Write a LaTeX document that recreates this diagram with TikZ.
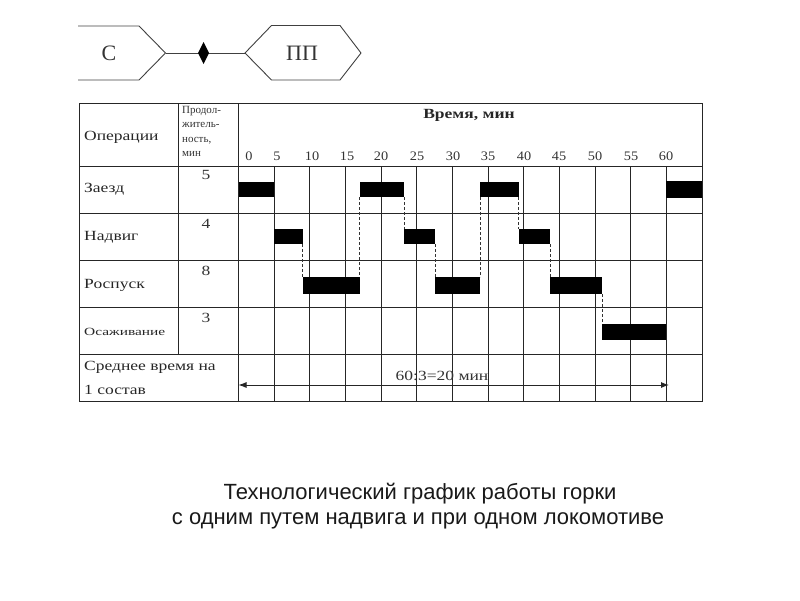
\documentclass[tikz,border=0pt]{standalone}
\usepackage{fontspec}
\setmainfont{Liberation Serif}
\newfontfamily\tabfont[FakeStretch=1.25]{Liberation Serif}
\newfontfamily\osfont[FakeStretch=1.4]{Liberation Serif}
\newfontfamily\numfont[FakeStretch=1.1]{Liberation Serif}
\newfontfamily\capfont{Liberation Sans}
\usetikzlibrary{arrows.meta}
\newcommand\ganttbar[5]{%
  \node[bar, minimum width={(#3-#2)*7.13pt}, minimum height=#5] (#1) at ({238.5+7.13*#2},#4) {};}
\begin{document}
\begin{tikzpicture}[x=1pt,y=-1pt,
  gridline/.style={draw=black!85, line width=0.9pt},
  shapeline/.style={draw=black!75, line width=0.9pt},
  bar/.style={fill=black, draw=none, inner sep=0pt, outer sep=0pt, anchor=north west},
  dashlink/.style={draw=black!80, line width=0.8pt, dash pattern=on 3pt off 2pt},
  lbl/.style={font=\tabfont\fontsize{14}{16}\selectfont, anchor=west, inner sep=0pt, text=black!85},
  num/.style={font=\numfont\fontsize{13}{15}\selectfont, inner sep=0pt, text=black!80},
  dur/.style={font=\tabfont\fontsize{14}{16}\selectfont, inner sep=0pt, text=black!80}
]
\useasboundingbox (0,0) rectangle (800,600);
% ---- top schematic
\draw[shapeline] (78,26) -- (139,26) -- (165.5,53) -- (139,80) -- (78,80);
\coordinate (cpt) at (165.5,53);
\node[font=\fontsize{22}{24}\selectfont, text=black!80] (cnode) at (109,53) {С};
\draw[shapeline] (245,53) -- (271.5,25.5) -- (340,25.5) -- (361,53) -- (340,80) -- (271.5,80) -- cycle;
\coordinate (hpt) at (245,53);
\node[font=\fontsize{22}{24}\selectfont, text=black!80] (ppnode) at (302,53) {ПП};
\coordinate (dm) at (203.5,53);
\draw[shapeline] (cpt) -- (hpt);
\fill[black] (dm) ++(0,-11) -- ++(5.5,11) -- ++(-5.5,11) -- ++(-5.5,-11) -- cycle;
% ---- table frame
\draw[gridline] (79,103) rectangle (702,401);
\foreach \y in {166,213,260,307,354} \draw[gridline] (79,\y) -- (702,\y);
\draw[gridline] (178,103) -- (178,354);
\draw[gridline] (238.5,103) -- (238.5,401);
\foreach \t in {5,10,...,60} \draw[gridline] ({238.5+7.13*\t},166) -- ({238.5+7.13*\t},401);
% ---- headers
\node[lbl] (hop) at (84,137) {Операции};
\node[font=\fontsize{11}{14.5}\selectfont, align=left, anchor=north west, inner sep=0pt, text=black!80] (hdur) at (182,106) {Продол-\\житель-\\ность,\\мин};
\node[font=\tabfont\bfseries\fontsize{14}{16}\selectfont, inner sep=0pt, text=black!85] (htime) at (469,115) {Время, мин};
\foreach \t/\xx in {0/249,5/277,10/312,15/347,20/381,25/417,30/453,35/488,40/524,45/559,50/595,55/631,60/666}
  \node[num] (n\t) at (\xx,156) {\t};
% ---- rows
\node[lbl] (r1l) at (84,189) {Заезд};
\node[lbl] (r2l) at (84,237) {Надвиг};
\node[lbl] (r3l) at (84,285) {Роспуск};
\node[font=\osfont\fontsize{11}{13}\selectfont, anchor=west, inner sep=0pt, text=black!85] (r4l) at (84,332) {Осаживание};
\node[lbl] (r5a) at (84,367) {Среднее время на};
\node[lbl] (r5b) at (84,390) {1 состав};
\node[dur] (d1) at (206,175) {5};
\node[dur] (d2) at (206,224) {4};
\node[dur] (d3) at (206,271) {8};
\node[dur] (d4) at (206,318) {3};
% ---- bars
\ganttbar{z1}{0}{5}{182}{15pt}
\ganttbar{z2}{17}{23.2}{182}{15pt}
\ganttbar{z3}{33.9}{39.3}{182}{15pt}
\ganttbar{z4}{60}{65}{181}{17pt}
\ganttbar{v1}{5}{9}{229}{15pt}
\ganttbar{v2}{23.2}{27.6}{229}{15pt}
\ganttbar{v3}{39.3}{43.7}{229}{15pt}
\ganttbar{p1}{9}{17}{277}{17pt}
\ganttbar{p2}{27.6}{33.9}{277}{17pt}
\ganttbar{p3}{43.7}{51}{277}{17pt}
\ganttbar{o1}{51}{60}{324}{16pt}
% ---- dashed links
\draw[dashlink] (v1.south east) -- (v1.south east |- p1.north);
\draw[dashlink] (z2.south west) -- (z2.south west |- p1.north);
\draw[dashlink] (z2.south east) -- (z2.south east |- v2.north);
\draw[dashlink] (v2.south east) -- (v2.south east |- p2.north);
\draw[dashlink] (z3.south west) -- (z3.south west |- p2.north);
\draw[dashlink] (z3.south east) -- (z3.south east |- v3.north);
\draw[dashlink] (v3.south east) -- (v3.south east |- p3.north);
\draw[dashlink] (p3.south east) -- (p3.south east |- o1.north);
% ---- average arrow
\coordinate (aL) at (238.5,385);
\coordinate (aR) at (669,385);
\draw[black!85, line width=0.9pt, {Latex[length=8pt,width=6pt]}-{Latex[length=8pt,width=6pt]}] (aL) -- (aR);
\node[dur] (atext) at (442,376) {60:3=20 мин};
% ---- caption
\node[font=\capfont\fontsize{22}{26}\selectfont, text=black!90] (cap1) at (420,494) {Технологический график работы горки};
\node[font=\capfont\fontsize{22}{26}\selectfont, text=black!90] (cap2) at (418,521) {с одним путем надвига и при одном локомотиве};
\end{tikzpicture}
\end{document}
